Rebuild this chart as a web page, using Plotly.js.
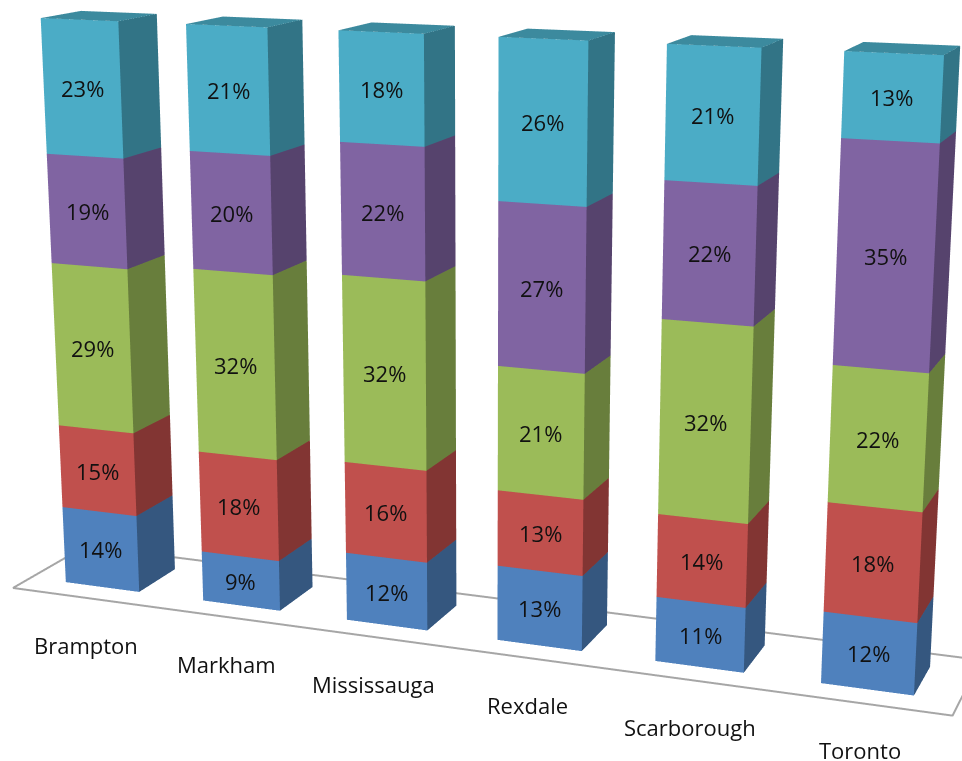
<!DOCTYPE html>
<html><head><meta charset="utf-8">
<script src="https://cdn.plot.ly/plotly-3.0.1.min.js"></script>
<style>html,body{margin:0;padding:0;background:#fff;overflow:hidden;width:962px;height:761px}#c{position:absolute;left:-519px;top:-620px;width:2000px;height:2000px}</style></head>
<body><div id="c"></div>
<script>
var categories=["Brampton","Markham","Mississauga","Rexdale","Scarborough","Toronto"];
var seriesBlue=[14,9,12,13,11,12];
var seriesRed=[15,18,16,13,14,18];
var seriesGreen=[29,32,32,21,32,22];
var seriesPurple=[19,20,22,27,22,35];
var seriesTeal=[23,21,18,26,21,13];
var series=[seriesBlue,seriesRed,seriesGreen,seriesPurple,seriesTeal];
var frontColors=["#4f81bd","#c0504d","#9bbb59","#8064a2","#4bacc6"];
var sideColors=["#35577f","#823533","#687e3c","#56436d","#327486"];
var topColors=["#3f6797","#9a403e","#7c9647","#665082","#3c8a9e"];
var halfW=0.27,halfD=0.235,floorD=0.45;
var font={family:"Open Sans, Noto Sans, sans-serif",size:22,color:"#111"};
var traces=[],notes=[];
categories.forEach(function(cat,i){
  var base=0;
  series.forEach(function(s,k){
    var v=s[i],x0=i-halfW,x1=i+halfW,y0=-halfD,y1=halfD,z0=base,z1=base+v;
    traces.push({type:"mesh3d",
      x:[x0,x1,x1,x0,x0,x1,x1,x0],y:[y0,y0,y1,y1,y0,y0,y1,y1],z:[z0,z0,z0,z0,z1,z1,z1,z1],
      i:[0,0,1,1,4,4],j:[1,5,2,6,5,6],k:[5,4,6,5,6,7],
      facecolor:[frontColors[k],frontColors[k],sideColors[k],sideColors[k],topColors[k],topColors[k]],
      flatshading:true,lighting:{ambient:1,diffuse:0,specular:0,roughness:1,fresnel:0},hoverinfo:"skip",showscale:false});
    notes.push({x:i,y:-halfD,z:base+v/2,text:v+"%",showarrow:false,font:font});
    base+=v;
  });
  notes.push({x:i,y:-floorD,z:0,text:cat,showarrow:false,font:font,yshift:-47,xshift:1});
});
traces.push({type:"scatter3d",mode:"lines",x:[-0.53,5.53,5.53,-0.53,-0.53],y:[-floorD,-floorD,floorD,floorD,-floorD],z:[0,0,0,0,0],
  line:{color:"#a6a6a6",width:4},hoverinfo:"skip",showlegend:false});
var ax={visible:false,showgrid:false,zeroline:false,showbackground:false,showticklabels:false};
Plotly.newPlot("c",traces,{width:2000,height:2000,showlegend:false,margin:{l:0,r:0,t:0,b:0},paper_bgcolor:"#fff",
  scene:{domain:{x:[0,1],y:[0,1]},annotations:notes,
    xaxis:Object.assign({range:[-0.6,5.6]},ax),yaxis:Object.assign({range:[-0.6,0.6]},ax),zaxis:Object.assign({range:[0,100]},ax),
    aspectmode:"manual",aspectratio:{x:1.70,y:0.34,z:1.0},
    camera:{eye:{x:1.395,y:-3.617,z:0.906},center:{x:0.007,y:0.003,z:-0.075},up:{x:0,y:0,z:1},projection:{type:"perspective"}}}
},{displayModeBar:false});
</script></body></html>
